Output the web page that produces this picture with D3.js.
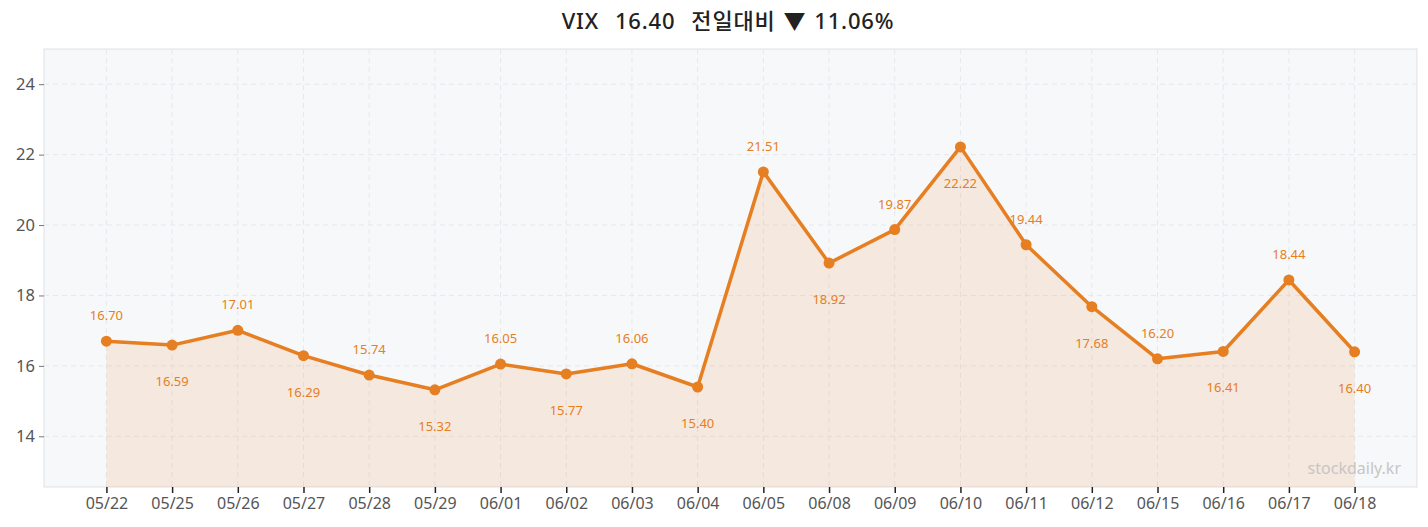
<!DOCTYPE html>
<html lang="ko">
<head>
<meta charset="UTF-8">
<title>VIX</title>
<script src="https://cdn.jsdelivr.net/npm/d3@7"></script>
<style>
  body { margin: 0; background: #fff; }
  svg text { font-family: "Noto Sans", "Noto Sans CJK KR", sans-serif; }
</style>
</head>
<body>
<div id="chart"></div>
<script>
// data
const dates = ["05/22","05/25","05/26","05/27","05/28","05/29","06/01","06/02","06/03","06/04",
               "06/05","06/08","06/09","06/10","06/11","06/12","06/15","06/16","06/17","06/18"];
const closes = [16.70,16.59,17.01,16.29,15.74,15.32,16.05,15.77,16.06,15.40,
                21.51,18.92,19.87,22.22,19.44,17.68,16.20,16.41,18.44,16.40];
const yTicks = [14, 16, 18, 20, 22, 24];
const titleText = "VIX  16.40  전일대비 ▼ 11.06%";

const W = 1428, H = 527;
const margin = {top: 49, right: 11, bottom: 40, left: 44};
const width = W - margin.left - margin.right,
      height = H - margin.top - margin.bottom;

const svg = d3.select("#chart").append("svg")
    .attr("width", W).attr("height", H);

svg.append("text")
    .attr("x", 728).attr("y", 29)
    .attr("text-anchor", "middle")
    .attr("font-size", 22).attr("font-weight", 500)
    .attr("fill", "#222")
    .attr("letter-spacing", 0.8)
    .style("white-space", "pre")
    .style("word-spacing", "1.5px")
    .text(titleText);

const g = svg.append("g").attr("transform", "translate(" + margin.left + "," + margin.top + ")");

const x = d3.scalePoint().domain(dates).range([0, width]).padding(0.95);
const y = d3.scaleLinear().domain([12.56, 25.0]).range([height, 0]);

// plot background
g.append("rect")
    .attr("width", width).attr("height", height)
    .attr("fill", "#f7f8fa").attr("stroke", "#dde1e6");

// grid
g.append("g").selectAll("line").data(yTicks).join("line")
    .attr("x1", 0).attr("x2", width)
    .attr("y1", d => y(d)).attr("y2", d => y(d))
    .attr("stroke", "#e6e8ec").attr("stroke-dasharray", "5,4");
g.append("g").selectAll("line").data(dates).join("line")
    .attr("x1", d => x(d)).attr("x2", d => x(d))
    .attr("y1", 0).attr("y2", height)
    .attr("stroke", "#e6e8ec").attr("stroke-dasharray", "5,4");

// axes
const yAxis = g.append("g")
    .call(d3.axisLeft(y).tickValues(yTicks).tickSize(5).tickPadding(4));
yAxis.select(".domain").remove();
yAxis.selectAll("line").attr("stroke", "#777");
yAxis.selectAll("text").attr("font-size", 16.5).attr("fill", "#555")
    .style("font-family", "Noto Sans, sans-serif");

const xAxis = g.append("g").attr("transform", "translate(0," + height + ")")
    .call(d3.axisBottom(x).tickSize(6).tickPadding(5));
xAxis.select(".domain").remove();
xAxis.selectAll("line").attr("stroke", "#222").attr("stroke-width", 1.5);
xAxis.selectAll("text").attr("font-size", 16).attr("fill", "#555")
    .style("font-family", "Noto Sans, sans-serif");

const pts = dates.map((d, i) => ({d: d, v: closes[i], i: i}));

// area
g.append("path").datum(pts)
    .attr("fill", "#e67e22").attr("fill-opacity", 0.12)
    .attr("d", d3.area().x(p => x(p.d)).y0(height).y1(p => y(p.v)));

// watermark
g.append("text")
    .attr("x", width - 16).attr("y", height - 13)
    .attr("text-anchor", "end")
    .attr("font-size", 16).attr("fill", "#c6c6c6")
    .text("stockdaily.kr");

// line
g.append("path").datum(pts)
    .attr("fill", "none").attr("stroke", "#e67e22").attr("stroke-width", 3.5)
    .attr("stroke-linejoin", "round")
    .attr("d", d3.line().x(p => x(p.d)).y(p => y(p.v)));

g.append("g").selectAll("circle").data(pts).join("circle")
    .attr("cx", p => x(p.d)).attr("cy", p => y(p.v)).attr("r", 5.5)
    .attr("fill", "#e67e22");

// value labels, alternating above / below
g.append("g").selectAll("text").data(pts).join("text")
    .attr("x", p => x(p.d))
    .attr("y", p => p.i % 2 === 0 ? y(p.v) - 21 : y(p.v) + 41)
    .attr("text-anchor", "middle")
    .attr("font-size", 13).attr("fill", "#e67e22")
    .text(p => p.v.toFixed(2));
</script>
</body>
</html>
